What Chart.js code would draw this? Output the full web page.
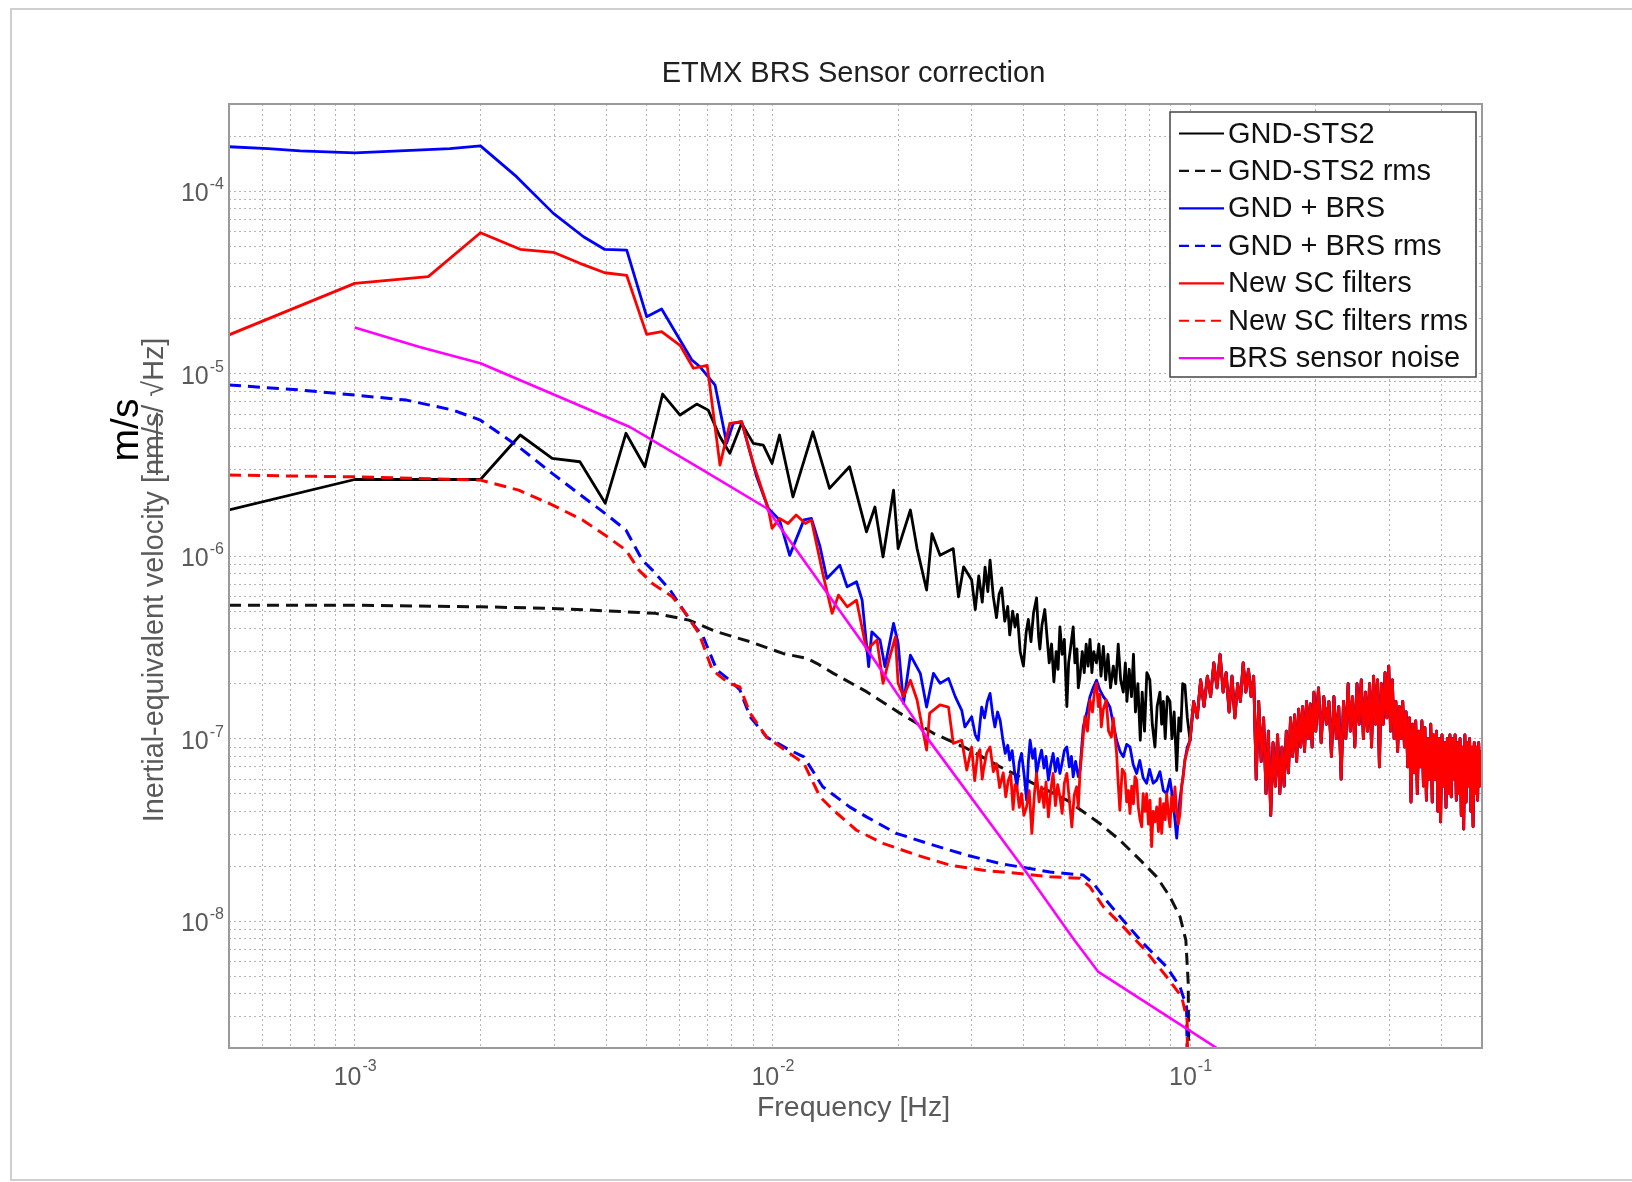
<!DOCTYPE html>
<html>
<head>
<meta charset="utf-8">
<title>ETMX BRS Sensor correction</title>
<script src="https://cdn.jsdelivr.net/npm/chart.js@4.4.1/dist/chart.umd.min.js"></script>
<style>
  html, body { margin: 0; padding: 0; background: #fff; }
  canvas { display: block; }
</style>
</head>
<body>
<canvas id="c" width="1632" height="1182"></canvas>
<script>
// ---- Spectra: [frequency Hz, velocity m/s/sqrt(Hz)] ----

// GND-STS2 ground velocity, below 0.1 Hz
const gndSts2 = [
  [5.0e-4, 1.79e-6], [1.0e-3, 2.63e-6], [2.0e-3, 2.63e-6], [2.49e-3, 4.61e-6], [2.97e-3, 3.43e-6],
  [3.46e-3, 3.29e-6], [3.98e-3, 1.95e-6], [4.46e-3, 4.71e-6], [4.95e-3, 3.09e-6], [5.46e-3, 7.73e-6],
  [6.01e-3, 5.93e-6], [6.59e-3, 6.81e-6], [7.02e-3, 6.31e-6], [7.49e-3, 4.51e-6], [7.91e-3, 3.66e-6],
  [8.44e-3, 5.34e-6], [9.0e-3, 4.15e-6], [9.51e-3, 4.06e-6], [9.98e-3, 3.22e-6], [1.04e-2, 4.61e-6],
  [1.12e-2, 2.11e-6], [1.25e-2, 4.80e-6], [1.37e-2, 2.35e-6], [1.53e-2, 3.09e-6], [1.68e-2, 1.36e-6],
  [1.76e-2, 1.86e-6], [1.84e-2, 9.9e-7], [1.95e-2, 2.30e-6], [2.0e-2, 1.10e-6], [2.14e-2, 1.79e-6],
  [2.22e-2, 1.10e-6], [2.34e-2, 6.52e-7], [2.41e-2, 1.33e-6], [2.52e-2, 1.01e-6], [2.71e-2, 1.10e-6],
  [2.79e-2, 5.99e-7], [2.87e-2, 8.74e-7],
  [0.0300, 7.4e-7], [0.0306, 5.1e-7], [0.0312, 7.8e-7], [0.0318, 5.6e-7], [0.0323, 8.7e-7],
  [0.0328, 6.4e-7], [0.0332, 9.5e-7], [0.0338, 6.0e-7], [0.0344, 4.6e-7], [0.0349, 6.2e-7],
  [0.0354, 6.7e-7], [0.0360, 4.4e-7], [0.0366, 5.3e-7], [0.0370, 3.7e-7], [0.0376, 5.0e-7],
  [0.0381, 4.1e-7], [0.0386, 4.8e-7], [0.0392, 3.0e-7], [0.0399, 2.5e-7], [0.0405, 3.8e-7],
  [0.0410, 4.5e-7], [0.0416, 3.4e-7], [0.0422, 4.9e-7], [0.0429, 5.9e-7], [0.0434, 3.6e-7],
  [0.0437, 3.1e-7], [0.0442, 4.2e-7], [0.0449, 5.1e-7], [0.0455, 3.5e-7], [0.0460, 2.6e-7],
  [0.0466, 3.3e-7], [0.0472, 2.05e-7], [0.0478, 3.0e-7], [0.0483, 2.4e-7], [0.0488, 4.1e-7],
  [0.0494, 2.9e-7], [0.0500, 3.5e-7], [0.0507, 1.5e-7], [0.0512, 2.6e-7], [0.0518, 3.2e-7],
  [0.0525, 4.1e-7], [0.0530, 2.6e-7], [0.0536, 3.1e-7], [0.0540, 1.9e-7], [0.0545, 2.2e-7],
  [0.0552, 3.0e-7], [0.0558, 2.3e-7], [0.0564, 3.3e-7], [0.0570, 2.5e-7], [0.0576, 3.5e-7],
  [0.0582, 2.3e-7], [0.0588, 3.0e-7], [0.0597, 2.6e-7], [0.0605, 3.3e-7], [0.0612, 2.2e-7],
  [0.0620, 3.2e-7], [0.0628, 2.1e-7], [0.0636, 2.9e-7], [0.0645, 1.9e-7], [0.0655, 2.5e-7],
  [0.0664, 2.0e-7], [0.0673, 3.3e-7], [0.0682, 2.1e-7], [0.0692, 1.8e-7], [0.0700, 2.6e-7],
  [0.0706, 1.6e-7], [0.0715, 2.4e-7], [0.0724, 1.7e-7], [0.0732, 2.9e-7], [0.0740, 1.4e-7],
  [0.0750, 2.0e-7], [0.0760, 9.8e-8], [0.0768, 1.8e-7], [0.0778, 1.1e-7], [0.0788, 2.3e-7],
  [0.0801, 2.1e-7], [0.0812, 1.2e-7], [0.0824, 9.0e-8], [0.0834, 1.5e-7], [0.0847, 1.8e-7],
  [0.0855, 1.2e-7], [0.0863, 1.6e-7], [0.0872, 1.0e-7], [0.0882, 1.7e-7], [0.0895, 1.6e-7],
  [0.0905, 1.0e-7], [0.0916, 1.4e-7], [0.0929, 6.7e-8], [0.0940, 1.3e-7], [0.0950, 1.1e-7],
  [0.0960, 2.0e-7], [0.0972, 1.97e-7], [0.0985, 1.3e-7]
];

// GND-STS2 cumulative rms
const gndSts2Rms = [
  [5.0e-4, 5.39e-7], [1.0e-3, 5.39e-7], [2.0e-3, 5.28e-7], [2.97e-3, 5.17e-7], [3.98e-3, 5.02e-7],
  [5.25e-3, 4.86e-7], [6.31e-3, 4.46e-7], [7.36e-3, 3.85e-7], [8.84e-3, 3.40e-7], [1.06e-2, 2.93e-7],
  [1.21e-2, 2.75e-7], [1.28e-2, 2.58e-7], [1.40e-2, 2.28e-7], [1.68e-2, 1.81e-7], [2.02e-2, 1.38e-7],
  [2.43e-2, 1.07e-7], [2.92e-2, 8.84e-8], [3.51e-2, 7.01e-8], [4.21e-2, 5.69e-8], [5.07e-2, 4.61e-8],
  [6.08e-2, 3.43e-8], [6.79e-2, 2.78e-8], [7.60e-2, 2.16e-8], [8.32e-2, 1.75e-8], [8.95e-2, 1.36e-8],
  [9.46e-2, 1.06e-8], [9.77e-2, 7.87e-9], [9.90e-2, 4.56e-9], [9.99e-2, 1e-10]
];

// GND + BRS, below 0.1 Hz
const gndBrs = [
  [5.0e-4, 1.75e-4], [6.2e-4, 1.71e-4], [7.4e-4, 1.66e-4], [1.0e-3, 1.62e-4], [1.28e-3, 1.66e-4],
  [1.69e-3, 1.71e-4], [2.0e-3, 1.77e-4], [2.44e-3, 1.20e-4], [2.99e-3, 7.55e-5], [3.53e-3, 5.62e-5],
  [3.97e-3, 4.79e-5], [4.48e-3, 4.75e-5], [5.0e-3, 2.05e-5], [5.43e-3, 2.26e-5], [6.41e-3, 1.19e-5],
  [6.71e-3, 1.09e-5], [7.29e-3, 8.66e-6], [7.77e-3, 4.15e-6], [8.06e-3, 5.34e-6], [8.44e-3, 5.45e-6],
  [9.17e-3, 2.72e-6], [9.77e-3, 1.83e-6], [1.04e-2, 1.58e-6], [1.10e-2, 1.01e-6], [1.19e-2, 1.58e-6],
  [1.24e-2, 1.61e-6], [1.30e-2, 1.13e-6], [1.35e-2, 7.55e-7], [1.45e-2, 8.93e-7], [1.51e-2, 6.79e-7],
  [1.59e-2, 7.24e-7], [1.64e-2, 5.74e-7], [1.70e-2, 2.48e-7], [1.73e-2, 3.85e-7], [1.81e-2, 3.47e-7],
  [1.86e-2, 2.48e-7], [1.95e-2, 4.28e-7], [2.00e-2, 3.33e-7], [2.06e-2, 1.56e-7], [2.14e-2, 2.87e-7],
  [2.26e-2, 2.28e-7], [2.34e-2, 1.49e-7], [2.43e-2, 2.28e-7], [2.52e-2, 2.01e-7], [2.64e-2, 2.14e-7],
  [2.74e-2, 1.70e-7], [2.84e-2, 1.43e-7], [2.89e-2, 1.16e-7],
  [0.0300, 1.32e-7], [0.0306, 1.05e-7], [0.0311, 9.8e-8], [0.0317, 1.49e-7], [0.0322, 1.3e-7],
  [0.0327, 1.6e-7], [0.0332, 1.77e-7], [0.0337, 1.35e-7], [0.0341, 1.16e-7], [0.0346, 1.4e-7],
  [0.0351, 1.26e-7], [0.0356, 1.0e-7], [0.0361, 8.3e-8], [0.0366, 9.2e-8], [0.0370, 7.63e-8],
  [0.0375, 8.6e-8], [0.0380, 6.6e-8], [0.0385, 5.45e-8], [0.0390, 7.4e-8], [0.0395, 8.3e-8],
  [0.0401, 6.2e-8], [0.0406, 4.61e-8], [0.0410, 7.5e-8], [0.0414, 9.8e-8], [0.0420, 7.8e-8],
  [0.0425, 8.8e-8], [0.0429, 6.45e-8], [0.0435, 7.6e-8], [0.0441, 8.66e-8], [0.0447, 6.9e-8],
  [0.0452, 8.0e-8], [0.0458, 5.93e-8], [0.0464, 7.2e-8], [0.0470, 8.3e-8], [0.0476, 6.6e-8],
  [0.0482, 7.8e-8], [0.0488, 6.45e-8], [0.0494, 7.4e-8], [0.0500, 8.6e-8], [0.0507, 9.02e-8],
  [0.0514, 7.0e-8], [0.0520, 8.0e-8], [0.0525, 6.18e-8], [0.0532, 7.5e-8], [0.0540, 6.2e-8],
  [0.0545, 6.73e-8], [0.0555, 1.16e-7], [0.0566, 1.4e-7], [0.0576, 1.70e-7], [0.0586, 1.9e-7],
  [0.0597, 2.09e-7], [0.0608, 1.85e-7], [0.0620, 1.70e-7], [0.0632, 1.6e-7], [0.0643, 1.49e-7],
  [0.0655, 1.2e-7], [0.0667, 9.8e-8], [0.0680, 8.5e-8], [0.0692, 7.95e-8], [0.0705, 9.3e-8],
  [0.0718, 9.02e-8], [0.0731, 7.2e-8], [0.0745, 6.45e-8], [0.0758, 7.6e-8], [0.0772, 6.1e-8],
  [0.0787, 5.69e-8], [0.0800, 6.8e-8], [0.0816, 5.7e-8], [0.0832, 5.93e-8], [0.0847, 6.6e-8],
  [0.0863, 5.2e-8], [0.0879, 5.0e-8], [0.0895, 6.0e-8], [0.0912, 4.4e-8], [0.0929, 2.85e-8],
  [0.0945, 4.6e-8], [0.0960, 6.0e-8], [0.0972, 7.63e-8], [0.0985, 9.0e-8]
];

// GND + BRS cumulative rms
const gndBrsRms = [
  [5.0e-4, 8.66e-6], [7.4e-4, 8.13e-6], [1.0e-3, 7.63e-6], [1.33e-3, 7.16e-6], [1.72e-3, 6.31e-6],
  [2.0e-3, 5.56e-6], [2.47e-3, 3.97e-6], [2.97e-3, 2.84e-6], [3.98e-3, 1.71e-6], [4.46e-3, 1.39e-6],
  [4.88e-3, 9.51e-7], [5.16e-3, 8.39e-7], [5.69e-3, 6.52e-7], [6.35e-3, 4.46e-7], [6.83e-3, 3.61e-7],
  [7.36e-3, 2.38e-7], [7.91e-3, 2.09e-7], [8.36e-3, 1.85e-7], [8.84e-3, 1.32e-7], [9.69e-3, 1.02e-7],
  [1.10e-2, 8.66e-8], [1.19e-2, 7.95e-8], [1.32e-2, 5.45e-8], [1.53e-2, 4.23e-8], [1.68e-2, 3.73e-8],
  [1.98e-2, 3.03e-8], [2.43e-2, 2.61e-8], [2.92e-2, 2.30e-8], [3.51e-2, 2.07e-8], [4.62e-2, 1.86e-8],
  [5.55e-2, 1.79e-8], [5.87e-2, 1.61e-8], [6.30e-2, 1.30e-8], [6.92e-2, 1.01e-8], [7.73e-2, 7.55e-9],
  [8.79e-2, 5.62e-9], [9.46e-2, 4.37e-9], [9.81e-2, 3.39e-9], [9.98e-2, 1e-10]
];

// New SC filters, below 0.1 Hz
const newSc = [
  [5.0e-4, 1.63e-5], [1.0e-3, 3.12e-5], [1.50e-3, 3.40e-5], [2.0e-3, 5.91e-5], [2.49e-3, 4.80e-5],
  [2.99e-3, 4.62e-5], [3.46e-3, 4.02e-5], [3.97e-3, 3.57e-5], [4.48e-3, 3.45e-5], [5.0e-3, 1.64e-5],
  [5.43e-3, 1.70e-5], [6.01e-3, 1.43e-5], [6.47e-3, 1.07e-5], [6.98e-3, 1.11e-5], [7.49e-3, 3.15e-6],
  [7.91e-3, 5.34e-6], [8.44e-3, 5.45e-6], [9.0e-3, 3.22e-6], [9.77e-3, 1.83e-6], [9.98e-3, 1.42e-6],
  [1.04e-2, 1.61e-6], [1.09e-2, 1.51e-6], [1.14e-2, 1.68e-6], [1.20e-2, 1.51e-6], [1.24e-2, 1.58e-6],
  [1.32e-2, 8.04e-7], [1.39e-2, 4.86e-7], [1.44e-2, 6.12e-7], [1.51e-2, 5.28e-7], [1.59e-2, 5.74e-7],
  [1.68e-2, 3.06e-7], [1.78e-2, 3.47e-7], [1.84e-2, 2.01e-7], [1.91e-2, 2.81e-7], [1.97e-2, 3.61e-7],
  [2.00e-2, 2.01e-7], [2.06e-2, 1.70e-7], [2.14e-2, 2.09e-7], [2.22e-2, 1.63e-7], [2.34e-2, 8.66e-8],
  [2.38e-2, 1.38e-7], [2.52e-2, 1.53e-7], [2.64e-2, 1.49e-7], [2.71e-2, 9.42e-8], [2.84e-2, 9.8e-8],
  [2.92e-2, 6.73e-8],
  [0.0300, 9.0e-8], [0.0305, 5.9e-8], [0.0310, 8.2e-8], [0.0314, 8.7e-8], [0.0318, 6.0e-8],
  [0.0320, 6.7e-8], [0.0326, 8.4e-8], [0.0332, 9.0e-8], [0.0338, 6.6e-8], [0.0344, 7.3e-8],
  [0.0350, 5.4e-8], [0.0357, 6.5e-8], [0.0362, 4.8e-8], [0.0367, 5.9e-8], [0.0372, 6.4e-8],
  [0.0377, 4.1e-8], [0.0381, 5.6e-8], [0.0385, 5.45e-8], [0.0390, 4.2e-8], [0.0395, 5.0e-8],
  [0.0400, 3.8e-8], [0.0406, 4.23e-8], [0.0412, 5.2e-8], [0.0418, 3.03e-8], [0.0424, 5.0e-8],
  [0.0429, 6.45e-8], [0.0435, 4.5e-8], [0.0441, 5.45e-8], [0.0447, 4.2e-8], [0.0452, 5.8e-8],
  [0.0458, 3.73e-8], [0.0464, 5.2e-8], [0.0470, 6.45e-8], [0.0476, 4.3e-8], [0.0482, 5.6e-8],
  [0.0488, 4.8e-8], [0.0494, 3.9e-8], [0.0500, 5.7e-8], [0.0507, 6.45e-8], [0.0514, 4.6e-8],
  [0.0521, 3.29e-8], [0.0528, 4.9e-8], [0.0535, 5.45e-8], [0.0540, 4.2e-8], [0.0545, 6.45e-8],
  [0.0552, 9.0e-8], [0.0560, 1.32e-7], [0.0568, 1.1e-7], [0.0576, 1.63e-7], [0.0584, 1.4e-7],
  [0.0590, 1.8e-7], [0.0597, 2.01e-7], [0.0603, 1.5e-7], [0.0608, 1.75e-7], [0.0613, 1.16e-7],
  [0.0620, 1.45e-7], [0.0630, 1.63e-7], [0.0638, 1.1e-7], [0.0648, 1.02e-7], [0.0655, 1.3e-7],
  [0.0667, 8.3e-8], [0.0672, 6.0e-8], [0.0679, 4.06e-8], [0.0688, 6.8e-8], [0.0698, 6.45e-8],
  [0.0705, 4.5e-8], [0.0712, 5.2e-8], [0.0718, 3.89e-8], [0.0725, 5.5e-8], [0.0732, 4.4e-8],
  [0.0738, 6.2e-8], [0.0745, 5.93e-8], [0.0752, 4.2e-8], [0.0759, 3.6e-8], [0.0766, 3.29e-8],
  [0.0772, 5.0e-8], [0.0780, 4.0e-8], [0.0787, 5.0e-8], [0.0795, 3.4e-8], [0.0802, 4.6e-8],
  [0.0809, 2.56e-8], [0.0816, 4.0e-8], [0.0824, 3.5e-8], [0.0832, 4.23e-8], [0.0840, 3.1e-8],
  [0.0848, 4.7e-8], [0.0855, 3.03e-8], [0.0864, 4.4e-8], [0.0872, 3.6e-8], [0.0879, 5.0e-8],
  [0.0888, 3.8e-8], [0.0895, 3.29e-8], [0.0903, 4.8e-8], [0.0912, 4.0e-8], [0.0920, 5.45e-8],
  [0.0928, 4.1e-8], [0.0937, 3.4e-8], [0.0946, 3.89e-8], [0.0955, 5.5e-8], [0.0963, 6.2e-8],
  [0.0972, 7.63e-8], [0.0985, 8.6e-8]
];

// New SC filters cumulative rms
const newScRms = [
  [5.0e-4, 2.78e-6], [1.0e-3, 2.72e-6], [2.0e-3, 2.61e-6], [2.47e-3, 2.30e-6], [2.97e-3, 1.91e-6],
  [3.51e-3, 1.58e-6], [3.98e-3, 1.30e-6], [4.46e-3, 1.08e-6], [4.79e-3, 8.39e-7], [5.16e-3, 7.09e-7],
  [5.76e-3, 5.99e-7], [6.20e-3, 4.86e-7], [6.67e-3, 3.77e-7], [7.18e-3, 2.38e-7], [7.87e-3, 2.01e-7],
  [8.36e-3, 1.92e-7], [8.84e-3, 1.38e-7], [9.69e-3, 1.02e-7], [1.10e-2, 8.3e-8], [1.19e-2, 7.32e-8],
  [1.30e-2, 4.80e-8], [1.40e-2, 4.06e-8], [1.59e-2, 3.15e-8], [1.84e-2, 2.67e-8], [2.22e-2, 2.30e-8],
  [2.66e-2, 2.03e-8], [3.20e-2, 1.90e-8], [3.85e-2, 1.83e-8], [4.62e-2, 1.75e-8], [5.45e-2, 1.72e-8],
  [5.76e-2, 1.54e-8], [6.20e-2, 1.20e-8], [6.92e-2, 9.31e-9], [7.73e-2, 7.12e-9], [8.79e-2, 4.96e-9],
  [9.55e-2, 3.85e-9], [9.84e-2, 2.87e-9], [9.98e-2, 1e-10]
];

// BRS sensor noise model
const brsNoise = [
  [1.0e-3, 1.79e-5], [1.43e-3, 1.40e-5], [2.0e-3, 1.14e-5], [4.56e-3, 5.1e-6], [6.71e-3, 3.03e-6],
  [9.69e-3, 1.83e-6], [1.66e-2, 3.25e-7], [2.34e-2, 1.02e-7], [3.99e-2, 1.95e-8], [5.25e-2, 8.04e-9],
  [6.02e-2, 5.3e-9], [1.166e-1, 2.0e-9]
];

// Above 0.1 Hz the three spectra lie on top of each other (microseism band)
const highBand = [
  [0.100, 9.8e-8], [0.102, 1.6e-7], [0.104, 1.3e-7], [0.106, 2.1e-7], [0.108, 1.5e-7],
  [0.110, 2.2e-7], [0.112, 1.7e-7], [0.114, 2.6e-7], [0.116, 1.9e-7], [0.118, 2.9e-7],
  [0.120, 1.8e-7], [0.122, 2.3e-7], [0.124, 1.4e-7], [0.126, 2.2e-7], [0.128, 1.3e-7],
  [0.130, 2.0e-7], [0.132, 1.6e-7], [0.134, 2.6e-7], [0.136, 1.8e-7], [0.138, 2.4e-7],
  [0.140, 1.7e-7], [0.142, 2.2e-7], [0.144, 6.0e-8], [0.146, 1.6e-7], [0.148, 7.5e-8],
  [0.150, 1.3e-7], [0.152, 5.0e-8], [0.154, 1.1e-7], [0.156, 3.8e-8], [0.158, 9.5e-8],
  [0.160, 5.5e-8], [0.162, 1.05e-7], [0.164, 5.0e-8], [0.166, 9.0e-8], [0.168, 5.5e-8],
  [0.170, 1.1e-7], [0.172, 6.5e-8], [0.174, 1.3e-7], [0.176, 8.0e-8], [0.178, 1.35e-7],
  [0.180, 7.5e-8], [0.182, 1.45e-7], [0.184, 9.0e-8], [0.186, 1.5e-7], [0.188, 8.5e-8],
  [0.190, 1.6e-7], [0.192, 1.0e-7], [0.194, 1.55e-7], [0.196, 9.0e-8], [0.198, 1.8e-7],
  [0.200, 1.1e-7], [0.203, 1.9e-7], [0.206, 9.5e-8], [0.209, 1.7e-7], [0.212, 1.2e-7],
  [0.215, 1.6e-7], [0.218, 8.0e-8], [0.221, 1.7e-7], [0.224, 1.0e-7], [0.227, 1.5e-7],
  [0.230, 6.0e-8], [0.233, 1.6e-7], [0.236, 1.0e-7], [0.239, 2.0e-7], [0.242, 1.1e-7],
  [0.245, 1.7e-7], [0.248, 9.0e-8], [0.251, 2.0e-7], [0.254, 1.2e-7], [0.257, 2.1e-7],
  [0.260, 1.0e-7], [0.263, 1.8e-7], [0.266, 1.1e-7], [0.269, 2.0e-7], [0.272, 9.0e-8],
  [0.275, 2.2e-7], [0.278, 1.2e-7], [0.281, 2.1e-7], [0.284, 7.0e-8], [0.287, 2.0e-7],
  [0.290, 1.2e-7], [0.293, 2.3e-7], [0.296, 1.3e-7], [0.299, 2.5e-7], [0.302, 1.1e-7],
  [0.305, 2.1e-7], [0.308, 1.0e-7], [0.311, 1.6e-7], [0.314, 8.5e-8], [0.317, 1.5e-7],
  [0.320, 1.0e-7], [0.323, 1.6e-7], [0.326, 9.0e-8], [0.329, 1.4e-7], [0.332, 7.0e-8],
  [0.335, 1.3e-7], [0.338, 4.5e-8], [0.341, 1.2e-7], [0.344, 6.5e-8], [0.347, 1.25e-7],
  [0.350, 5.0e-8], [0.353, 1.1e-7], [0.356, 7.0e-8], [0.359, 1.25e-7], [0.362, 5.5e-8],
  [0.365, 1.15e-7], [0.368, 4.6e-8], [0.371, 1.0e-7], [0.374, 6.0e-8], [0.377, 1.2e-7],
  [0.380, 4.5e-8], [0.383, 1.05e-7], [0.386, 6.0e-8], [0.389, 1.1e-7], [0.392, 4.0e-8],
  [0.395, 1.0e-7], [0.398, 3.5e-8], [0.401, 1.05e-7], [0.404, 5.5e-8], [0.407, 9.5e-8],
  [0.410, 4.2e-8], [0.413, 1.0e-7], [0.416, 5.0e-8], [0.419, 1.05e-7], [0.422, 4.8e-8],
  [0.425, 1.0e-7], [0.428, 6.0e-8], [0.431, 1.05e-7], [0.434, 4.6e-8], [0.437, 9.5e-8],
  [0.440, 5.0e-8], [0.443, 1.0e-7], [0.446, 3.8e-8], [0.449, 9.0e-8], [0.452, 3.2e-8],
  [0.455, 1.05e-7], [0.458, 4.5e-8], [0.461, 9.5e-8], [0.464, 5.5e-8], [0.467, 1.0e-7],
  [0.470, 4.0e-8], [0.473, 9.0e-8], [0.476, 3.3e-8], [0.479, 9.5e-8], [0.482, 5.0e-8],
  [0.485, 9.0e-8], [0.488, 4.6e-8], [0.491, 9.5e-8], [0.494, 5.5e-8], [0.497, 8.5e-8],
  [0.500, 7.0e-8]
];

// ---- Axes ----
const xRange = [5e-4, 0.5];
const yRange = [2.02e-9, 3.0e-4];
const xGridTicks = [
  5e-4, 6e-4, 7e-4, 8e-4, 9e-4,
  1e-3, 2e-3, 3e-3, 4e-3, 5e-3, 6e-3, 7e-3, 8e-3, 9e-3,
  1e-2, 2e-2, 3e-2, 4e-2, 5e-2, 6e-2, 7e-2, 8e-2, 9e-2,
  1e-1, 2e-1, 3e-1, 4e-1, 5e-1
];
const yGridTicks = [
  3e-9, 4e-9, 5e-9, 6e-9, 7e-9, 8e-9, 9e-9,
  1e-8, 2e-8, 3e-8, 4e-8, 5e-8, 6e-8, 7e-8, 8e-8, 9e-8,
  1e-7, 2e-7, 3e-7, 4e-7, 5e-7, 6e-7, 7e-7, 8e-7, 9e-7,
  1e-6, 2e-6, 3e-6, 4e-6, 5e-6, 6e-6, 7e-6, 8e-6, 9e-6,
  1e-5, 2e-5, 3e-5, 4e-5, 5e-5, 6e-5, 7e-5, 8e-5, 9e-5,
  1e-4, 2e-4, 3e-4
];
const xLabelExponents = [-3, -2, -1];
const yLabelExponents = [-4, -5, -6, -7, -8];

const titleText = 'ETMX BRS Sensor correction';
const xAxisText = 'Frequency [Hz]';
const yAxisText = 'Inertial-equivalent velocity [nm/s/ \u221AHz]';
const yUnitText = 'm/s';

const FONT = '"Liberation Sans", Arial, Helvetica, sans-serif';
const DASH = [12, 7];

const toXY = (pairs) => pairs.map(p => ({ x: p[0], y: p[1] }));

const datasets = [
  { label: 'GND-STS2', data: toXY(gndSts2.concat(highBand)), borderColor: '#000000', borderWidth: 2.8, order: 7 },
  { label: 'GND-STS2 rms', data: toXY(gndSts2Rms), borderColor: '#111111', borderWidth: 3, borderDash: DASH, order: 6 },
  { label: 'GND + BRS', data: toXY(gndBrs.concat(highBand)), borderColor: '#0000ff', borderWidth: 2.8, order: 5 },
  { label: 'GND + BRS rms', data: toXY(gndBrsRms), borderColor: '#0000ff', borderWidth: 3, borderDash: DASH, order: 4 },
  { label: 'New SC filters', data: toXY(newSc.concat(highBand)), borderColor: '#ff0000', borderWidth: 2.8, order: 3 },
  { label: 'New SC filters rms', data: toXY(newScRms), borderColor: '#ff0000', borderWidth: 3, borderDash: DASH, order: 2 },
  { label: 'BRS sensor noise', data: toXY(brsNoise), borderColor: '#ff00ff', borderWidth: 2.6, order: 1 }
];

function drawPower(ctx, exp, x, y, align) {
  // "10" with a raised exponent; (x, y) is the tick position
  const base = '10', sup = String(exp);
  ctx.font = '25px ' + FONT;
  const wb = ctx.measureText(base).width;
  ctx.font = '16px ' + FONT;
  const ws = ctx.measureText(sup).width;
  let left, baseY, supY;
  if (align === 'y') {
    left = x - 6 - ws - wb;
    baseY = y + 10;
    supY = y - 2;
  } else {
    left = x - (wb + ws) / 2;
    baseY = y + 37;
    supY = y + 23;
  }
  ctx.fillStyle = '#5a5a5a';
  ctx.textAlign = 'left';
  ctx.textBaseline = 'alphabetic';
  ctx.font = '25px ' + FONT;
  ctx.fillText(base, left, baseY);
  ctx.font = '16px ' + FONT;
  ctx.fillText(sup, left + wb + 1, supY);
}

const decorations = {
  id: 'decorations',
  beforeDraw(chart) {
    const { ctx, width, height } = chart;
    ctx.save();
    ctx.fillStyle = '#ffffff';
    ctx.fillRect(0, 0, width, height);
    ctx.restore();
  },
  afterDraw(chart) {
    const { ctx, chartArea: a } = chart;
    const xs = chart.scales.x, ys = chart.scales.y;
    ctx.save();

    // axes box
    ctx.strokeStyle = '#9a9a9a';
    ctx.lineWidth = 2;
    ctx.setLineDash([]);
    ctx.strokeRect(a.left, a.top, a.right - a.left, a.bottom - a.top);

    // tick labels
    yLabelExponents.forEach(e => drawPower(ctx, e, a.left, ys.getPixelForValue(Math.pow(10, e)), 'y'));
    xLabelExponents.forEach(e => drawPower(ctx, e, xs.getPixelForValue(Math.pow(10, e)), a.bottom, 'x'));

    const cx = (a.left + a.right) / 2;
    const cy = (a.top + a.bottom) / 2;

    // title
    ctx.fillStyle = '#202020';
    ctx.font = '29px ' + FONT;
    ctx.textAlign = 'center';
    ctx.textBaseline = 'alphabetic';
    ctx.fillText(titleText, cx - 2, a.top - 22);

    // x axis title
    ctx.fillStyle = '#5a5a5a';
    ctx.font = '28.5px ' + FONT;
    ctx.fillText(xAxisText, cx - 2, a.bottom + 68);

    // y axis title, with the original unit struck through
    ctx.save();
    ctx.translate(a.left - 66, cy + 4);
    ctx.rotate(-Math.PI / 2);
    ctx.font = '28.8px ' + FONT;
    ctx.fillStyle = '#5a5a5a';
    ctx.textAlign = 'left';
    const total = ctx.measureText(yAxisText).width;
    const start = -total / 2;
    ctx.fillText(yAxisText, start, 0);
    const pre = ctx.measureText('Inertial-equivalent velocity [').width;
    const struck = ctx.measureText('nm/s').width;
    ctx.fillRect(start + pre, -7, struck, 2);
    ctx.restore();

    // corrected unit written over it
    ctx.save();
    ctx.translate(a.left - 91, a.top + 326);
    ctx.rotate(-Math.PI / 2);
    ctx.font = '39px ' + FONT;
    ctx.fillStyle = '#000000';
    ctx.textAlign = 'center';
    ctx.fillText(yUnitText, 0, 0);
    ctx.restore();

    // legend
    const lg = { x: a.right - 312, y: a.top + 8, w: 306, h: 265 };
    ctx.fillStyle = '#ffffff';
    ctx.fillRect(lg.x, lg.y, lg.w, lg.h);
    ctx.strokeStyle = '#444444';
    ctx.lineWidth = 1.5;
    ctx.strokeRect(lg.x, lg.y, lg.w, lg.h);
    ctx.font = '29px ' + FONT;
    ctx.textAlign = 'left';
    ctx.textBaseline = 'middle';
    chart.data.datasets.forEach((ds, i) => {
      const yy = lg.y + 21.5 + i * 37.45;
      ctx.strokeStyle = ds.borderColor;
      ctx.lineWidth = 2.2;
      ctx.setLineDash(ds.borderDash ? [10, 6] : []);
      ctx.beginPath();
      ctx.moveTo(lg.x + 9, yy);
      ctx.lineTo(lg.x + 54, yy);
      ctx.stroke();
      ctx.setLineDash([]);
      ctx.fillStyle = '#111111';
      ctx.fillText(ds.label, lg.x + 58, yy + 1);
    });

    // outer frame
    ctx.strokeStyle = '#cfcfcf';
    ctx.lineWidth = 2;
    ctx.beginPath();
    ctx.moveTo(1632, 9); ctx.lineTo(11, 9); ctx.lineTo(11, 1180); ctx.lineTo(1632, 1180);
    ctx.stroke();

    ctx.restore();
  }
};

const gridOpts = { color: '#b4b4b4', lineWidth: 1, drawTicks: false };

new Chart(document.getElementById('c'), {
  type: 'line',
  data: { datasets },
  options: {
    responsive: false,
    animation: false,
    devicePixelRatio: 1,
    layout: { padding: { left: 229, right: 150, top: 104, bottom: 134 } },
    elements: {
      point: { radius: 0, hoverRadius: 0 },
      line: { tension: 0, borderJoinStyle: 'round', borderCapStyle: 'butt' }
    },
    plugins: { legend: { display: false }, tooltip: { enabled: false }, title: { display: false } },
    scales: {
      x: {
        type: 'logarithmic', min: xRange[0], max: xRange[1],
        afterBuildTicks: s => { s.ticks = xGridTicks.map(v => ({ value: v })); },
        afterFit: s => { s.height = 0; },
        ticks: { display: false },
        grid: gridOpts,
        border: { display: false, dash: [2, 3] }
      },
      y: {
        type: 'logarithmic', min: yRange[0], max: yRange[1],
        afterBuildTicks: s => { s.ticks = yGridTicks.map(v => ({ value: v })); },
        afterFit: s => { s.width = 0; },
        ticks: { display: false },
        grid: gridOpts,
        border: { display: false, dash: [2, 3] }
      }
    }
  },
  plugins: [decorations]
});
</script>
</body>
</html>
